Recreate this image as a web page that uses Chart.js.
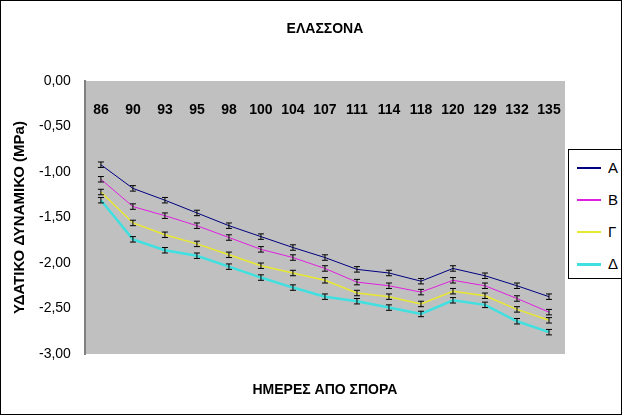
<!DOCTYPE html><html><head><meta charset="utf-8">
<script src="https://cdn.jsdelivr.net/npm/chart.js@4"></script>
<style>body{margin:0;background:#fff;font-family:"Liberation Sans",Arial,sans-serif}
#w{position:relative;width:620px;height:413px;border:1px solid #000}
#lg{position:absolute;left:567px;top:148px;width:52px;height:128px;border:1px solid #000;background:#fff;font-size:15px}
.it{position:absolute;left:8px;width:44px;height:16px}
.it span{position:absolute;left:0;top:8px;width:24px}
.it b{position:absolute;left:31px;top:0;font-weight:normal}
</style></head><body><div id="w"><canvas id="c" width="620" height="413"></canvas>
<div id="lg"></div></div>
<script>
const categories=["86","90","93","95","98","100","104","107","111","114","118","120","129","132","135"];
const A=[-0.92,-1.18,-1.31,-1.45,-1.59,-1.71,-1.83,-1.94,-2.07,-2.11,-2.20,-2.06,-2.14,-2.25,-2.37];
const B=[-1.08,-1.38,-1.48,-1.59,-1.72,-1.85,-1.94,-2.06,-2.21,-2.25,-2.32,-2.19,-2.25,-2.39,-2.54];
const G=[-1.22,-1.56,-1.69,-1.79,-1.91,-2.03,-2.11,-2.19,-2.33,-2.37,-2.45,-2.31,-2.36,-2.51,-2.63];
const D=[-1.31,-1.74,-1.86,-1.92,-2.04,-2.16,-2.27,-2.37,-2.42,-2.49,-2.56,-2.41,-2.46,-2.64,-2.76];
const err=0.03;
const names=["Α","Β","Γ","Δ"],colors=["#000080","#e020e0","#e8e830","#40e0e0"],widths=[1,1,1.5,2.5];
const lg=document.getElementById('lg');
names.forEach((n,i)=>{const d=document.createElement('div');d.className='it';d.style.top=(9+i*32)+'px';
d.innerHTML='<span style="height:'+Math.max(1.5,widths[i])+'px;background:'+colors[i]+'"></span><b>'+n+'</b>';lg.appendChild(d);});
const errPlugin={id:'eb',afterDatasetsDraw(ch){const c=ch.ctx,y=ch.scales.y;c.save();c.strokeStyle='#000';c.lineWidth=1;
ch.data.datasets.forEach((ds,i)=>{ch.getDatasetMeta(i).data.forEach((p,j)=>{const v=ds.data[j];const t=y.getPixelForValue(v+err),b=y.getPixelForValue(v-err);
c.beginPath();c.moveTo(p.x,t);c.lineTo(p.x,b);c.moveTo(p.x-3,t);c.lineTo(p.x+3,t);c.moveTo(p.x-3,b);c.lineTo(p.x+3,b);c.stroke();});});c.restore();}};
const bg={id:'bg',beforeDraw(ch){const a=ch.chartArea,c=ch.ctx;c.save();c.fillStyle='#c0c0c0';c.fillRect(a.left,a.top,a.right-a.left,a.bottom-a.top);c.restore();}};
const xlab={id:'xl',afterDraw(ch){const c=ch.ctx,x=ch.scales.x;c.save();c.font='bold 14px Liberation Sans';c.fillStyle='#000';c.textAlign='center';c.textBaseline='middle';
categories.forEach((t,i)=>c.fillText(t,x.getPixelForValue(i),ch.chartArea.top+29));
c.fillText('ΗΜΕΡΕΣ ΑΠΟ ΣΠΟΡΑ',(ch.chartArea.left+ch.chartArea.right)/2,389);
c.fillText('ΕΛΑΣΣΟΝΑ',(ch.chartArea.left+ch.chartArea.right)/2,28);c.restore();}};
new Chart(document.getElementById('c'),{type:'line',
data:{labels:categories,datasets:[A,B,G,D].map((d,i)=>({label:names[i],data:d,borderColor:colors[i],borderWidth:widths[i],pointRadius:0,tension:0}))},
options:{responsive:false,animation:false,layout:{padding:{right:56,left:6,top:72,bottom:60}},
plugins:{legend:{display:false},tooltip:{enabled:false},title:{display:false}},
scales:{x:{position:'top',offset:true,grid:{display:false},border:{display:false},ticks:{display:false}},
y:{min:-3,max:0,grid:{display:false,drawTicks:true},border:{color:'#808080',width:2},ticks:{stepSize:0.5,color:'#000',padding:6,font:{size:14,family:'Liberation Sans'},callback:v=>v.toFixed(2).replace('.',',')},
title:{display:true,text:'ΥΔΑΤΙΚΟ ΔΥΝΑΜΙΚΟ (MPa)',color:'#000',font:{size:15,weight:'bold',family:'Liberation Sans'}}}}},
plugins:[bg,errPlugin,xlab]});
</script></body></html>
